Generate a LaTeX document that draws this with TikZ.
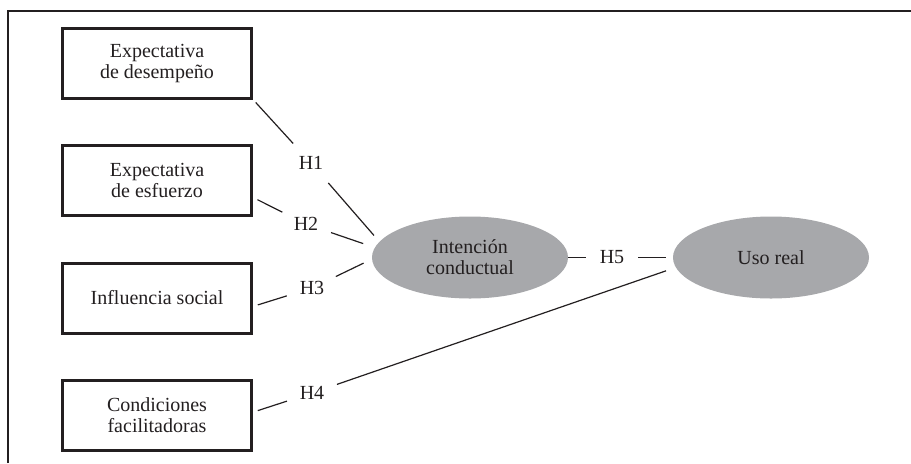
\documentclass[tikz,border=0pt]{standalone}
\usepackage{fontspec}
\setmainfont{Liberation Serif}
\usepackage{tikz}
\usetikzlibrary{shapes.geometric}
\definecolor{ellgray}{HTML}{A7A8AB}
\definecolor{inkgray}{HTML}{231F20}
\begin{document}
\begin{tikzpicture}[x=0.5pt, y=-0.5pt,
  font=\fontsize{10}{10.5}\selectfont, text=inkgray,
  box/.style={draw=inkgray, line width=1.5pt, minimum width=94.5pt, minimum height=35pt, align=center, inner sep=0pt},
  ell/.style={ellipse, fill=ellgray, minimum width=98pt, minimum height=41pt, align=center, inner sep=0pt},
  hyp/.style={circle, minimum size=26pt, inner sep=0pt},
  link/.style={draw=inkgray, line width=0.6pt}]
  \useasboundingbox (0,0) rectangle (911,463);
  \draw [inkgray, line width=0.6pt] (8,463) -- (8,11) -- (911,11);

  \node [box] (b1) at (157,63) {Expectativa\\de desempeño};
  \node [box] (b2) at (157,180.5) {Expectativa\\de esfuerzo};
  \node [box] (b3) at (157,298) {Influencia social};
  \node [box] (b4) at (157,415.5) {Condiciones\\facilitadoras};

  \node [ell] (ic) at (470,257.5) {Intención\\conductual};
  \node [ell] (ur) at (771,257.5) {Uso real};

  \node [hyp] (h1) at (311,163) {H1};
  \node [hyp] (h2) at (306,224) {H2};
  \node [hyp] (h3) at (312,288) {H3};
  \node [hyp] (h4) at (312,393) {H4};
  \node [hyp] (h5) at (612,257.5) {H5};

  \draw [link, shorten <=2pt] (b1.south east) -- (h1);
  \draw [link, shorten >=4pt] (h1) -- (ic.170);
  \draw [link, shorten <=2.5pt] (b2.-10) -- (h2);
  \draw [link, shorten >=6pt] (h2) -- (ic.174);
  \draw [link, shorten <=2.5pt] (b3.-5) -- (h3);
  \draw [link, shorten >=4.5pt] (h3) -- (ic.181);
  \draw [link, shorten <=2.5pt] (b4.2) -- (h4);
  \draw [link, shorten >=5pt] (h4) -- (ur.186);
  \draw [link] (ic.east) -- (h5);
  \draw [link, shorten >=3.5pt] (h5) -- (ur.west);
\end{tikzpicture}
\end{document}
